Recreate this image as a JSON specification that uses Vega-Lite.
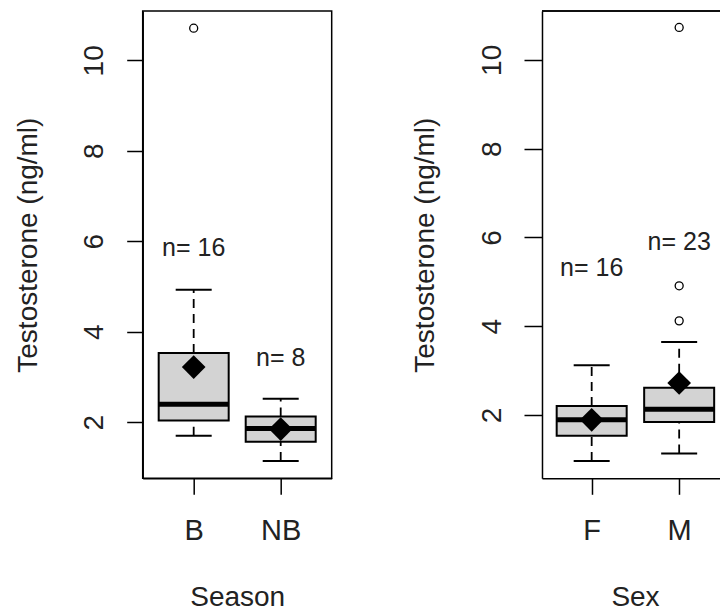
{
  "$schema": "https://vega.github.io/schema/vega-lite/v6.json",
  "background": "white",
  "padding": {"left": 13.7, "top": 10, "right": 0, "bottom": 0},
  "spacing": 210.3,
  "bounds": "flush",
  "datasets": {
    "season": [
      {"group": "B", "lower": 1.70, "q1": 2.04, "median": 2.40, "q3": 3.53, "upper": 4.93, "mean": 3.22, "labelY": 5.85, "label": "n= 16"},
      {"group": "NB", "lower": 1.145, "q1": 1.57, "median": 1.86, "q3": 2.13, "upper": 2.52, "mean": 1.85, "labelY": 3.42, "label": "n= 8"}
    ],
    "seasonOut": [
      {"group": "B", "value": 10.71}
    ],
    "sex": [
      {"group": "F", "lower": 0.96, "q1": 1.53, "median": 1.89, "q3": 2.20, "upper": 3.12, "mean": 1.89, "labelY": 5.32, "label": "n= 16"},
      {"group": "M", "lower": 1.13, "q1": 1.84, "median": 2.13, "q3": 2.61, "upper": 3.645, "mean": 2.72, "labelY": 5.90, "label": "n= 23"}
    ],
    "sexOut": [
      {"group": "M", "value": 10.73},
      {"group": "M", "value": 4.91},
      {"group": "M", "value": 4.12}
    ]
  },
  "config": {
    "font": "Liberation Sans",
    "view": {"stroke": "black", "strokeWidth": 1.5},
    "axis": {
      "grid": false,
      "domainColor": "black",
      "domainWidth": 1.5,
      "tickColor": "black",
      "tickWidth": 1.5,
      "tickSize": 16,
      "labelColor": "#222",
      "titleColor": "#222",
      "labelFont": "Liberation Sans",
      "titleFont": "Liberation Sans",
      "titleFontWeight": "normal",
      "labelFontSize": 28,
      "titleFontSize": 28,
      "labelOverlap": false,
      "labelFlush": false
    }
  },
  "hconcat": [
    {
      "width": 189,
      "height": 467.3,
      "data": {"name": "season"},
      "encoding": {
        "x": {
          "field": "group", "type": "nominal",
          "scale": {"type": "point", "padding": 0.586},
          "axis": {"title": "Season", "labelAngle": 0, "labelBaseline": "alphabetic", "labelPadding": 45.7, "labelFontSize": 29, "titleX": 94.5, "titleY": 127.7, "titleBaseline": "alphabetic", "titleAlign": "center", "titleAnchor": "middle"}
        }
      },
      "layer": [
        {
          "mark": {"type": "rule", "color": "black", "strokeWidth": 1.8, "strokeDash": [9, 6]},
          "encoding": {
            "y": {"field": "q3", "type": "quantitative", "scale": {"domain": [0.762, 11.09], "nice": false, "zero": false},
              "axis": {"title": "Testosterone (ng/ml)", "values": [2, 4, 6, 8, 10], "labelAngle": 270, "labelAlign": "center", "labelBaseline": "alphabetic", "labelPadding": 24, "titleAngle": 270, "titleAlign": "center", "titleBaseline": "alphabetic", "titleX": -106, "titleY": 233.65}},
            "y2": {"field": "upper"}
          }
        },
        {
          "mark": {"type": "rule", "color": "black", "strokeWidth": 1.8, "strokeDash": [9, 6]},
          "encoding": {
            "y": {"field": "lower", "type": "quantitative", "scale": {"domain": [0.762, 11.09], "nice": false, "zero": false}},
            "y2": {"field": "q1"}
          }
        },
        {
          "mark": {"type": "bar", "size": 70, "fill": "#d3d3d3", "stroke": "black", "strokeWidth": 2, "opacity": 1},
          "encoding": {
            "y": {"field": "q1", "type": "quantitative", "scale": {"domain": [0.762, 11.09], "nice": false, "zero": false}},
            "y2": {"field": "q3"}
          }
        },
        {
          "mark": {"type": "tick", "size": 36, "thickness": 2, "color": "black", "opacity": 1},
          "encoding": {
            "y": {"field": "upper", "type": "quantitative", "scale": {"domain": [0.762, 11.09], "nice": false, "zero": false}}
          }
        },
        {
          "mark": {"type": "tick", "size": 36, "thickness": 2, "color": "black", "opacity": 1},
          "encoding": {
            "y": {"field": "lower", "type": "quantitative", "scale": {"domain": [0.762, 11.09], "nice": false, "zero": false}}
          }
        },
        {
          "mark": {"type": "tick", "size": 70, "thickness": 5, "color": "black", "opacity": 1},
          "encoding": {
            "y": {"field": "median", "type": "quantitative", "scale": {"domain": [0.762, 11.09], "nice": false, "zero": false}}
          }
        },
        {
          "mark": {"type": "point", "shape": "diamond", "size": 560, "filled": true, "color": "black", "opacity": 1},
          "encoding": {
            "y": {"field": "mean", "type": "quantitative", "scale": {"domain": [0.762, 11.09], "nice": false, "zero": false}}
          }
        },
        {
          "data": {"name": "seasonOut"},
          "mark": {"type": "point", "shape": "circle", "size": 64, "filled": false, "color": "black", "strokeWidth": 1.3, "opacity": 1},
          "encoding": {
            "y": {"field": "value", "type": "quantitative", "scale": {"domain": [0.762, 11.09], "nice": false, "zero": false}}
          }
        },
        {
          "mark": {"type": "text", "fontSize": 25, "color": "#222", "baseline": "middle", "align": "center", "font": "Liberation Sans"},
          "encoding": {
            "y": {"field": "labelY", "type": "quantitative", "scale": {"domain": [0.762, 11.09], "nice": false, "zero": false}},
            "text": {"field": "label"}
          }
        }
      ]
    },
    {
      "width": 179,
      "height": 467.3,
      "view": {"stroke": null},
      "data": {"name": "sex"},
      "layer": [
        {
          "encoding": {
            "x": {
              "field": "group", "type": "nominal",
              "scale": {"type": "point", "padding": 0.523, "align": 0.543},
              "axis": {"title": "Sex", "labelAngle": 0, "labelBaseline": "alphabetic", "labelPadding": 45.7, "labelFontSize": 29, "titleX": 93, "titleY": 127.7, "titleBaseline": "alphabetic", "titleAlign": "center", "titleAnchor": "middle", "domain": true}
            }
          },
          "layer": [
            {
              "mark": {"type": "rule", "color": "black", "strokeWidth": 1.8, "strokeDash": [9, 6]},
              "encoding": {
                "y": {"field": "q3", "type": "quantitative", "scale": {"domain": [0.573, 11.10], "nice": false, "zero": false},
                  "axis": {"title": "Testosterone (ng/ml)", "values": [2, 4, 6, 8, 10], "labelAngle": 270, "labelAlign": "center", "labelBaseline": "alphabetic", "labelPadding": 23, "tickSize": 18, "titleAngle": 270, "titleAlign": "center", "titleBaseline": "alphabetic", "titleX": -108, "titleY": 233.65, "domain": true}},
                "y2": {"field": "upper"}
              }
            },
            {
              "mark": {"type": "rule", "color": "black", "strokeWidth": 1.8, "strokeDash": [9, 6]},
              "encoding": {
                "y": {"field": "lower", "type": "quantitative", "scale": {"domain": [0.573, 11.10], "nice": false, "zero": false}},
                "y2": {"field": "q1"}
              }
            },
            {
              "mark": {"type": "bar", "size": 70, "fill": "#d3d3d3", "stroke": "black", "strokeWidth": 2, "opacity": 1},
              "encoding": {
                "y": {"field": "q1", "type": "quantitative", "scale": {"domain": [0.573, 11.10], "nice": false, "zero": false}},
                "y2": {"field": "q3"}
              }
            },
            {
              "mark": {"type": "tick", "size": 36, "thickness": 2, "color": "black", "opacity": 1},
              "encoding": {
                "y": {"field": "upper", "type": "quantitative", "scale": {"domain": [0.573, 11.10], "nice": false, "zero": false}}
              }
            },
            {
              "mark": {"type": "tick", "size": 36, "thickness": 2, "color": "black", "opacity": 1},
              "encoding": {
                "y": {"field": "lower", "type": "quantitative", "scale": {"domain": [0.573, 11.10], "nice": false, "zero": false}}
              }
            },
            {
              "mark": {"type": "tick", "size": 70, "thickness": 5, "color": "black", "opacity": 1},
              "encoding": {
                "y": {"field": "median", "type": "quantitative", "scale": {"domain": [0.573, 11.10], "nice": false, "zero": false}}
              }
            },
            {
              "mark": {"type": "point", "shape": "diamond", "size": 560, "filled": true, "color": "black", "opacity": 1},
              "encoding": {
                "y": {"field": "mean", "type": "quantitative", "scale": {"domain": [0.573, 11.10], "nice": false, "zero": false}}
              }
            },
            {
              "data": {"name": "sexOut"},
              "mark": {"type": "point", "shape": "circle", "size": 64, "filled": false, "color": "black", "strokeWidth": 1.3, "opacity": 1},
              "encoding": {
                "y": {"field": "value", "type": "quantitative", "scale": {"domain": [0.573, 11.10], "nice": false, "zero": false}}
              }
            },
            {
              "mark": {"type": "text", "fontSize": 25, "color": "#222", "baseline": "middle", "align": "center", "font": "Liberation Sans"},
              "encoding": {
                "y": {"field": "labelY", "type": "quantitative", "scale": {"domain": [0.573, 11.10], "nice": false, "zero": false}},
                "text": {"field": "label"}
              }
            }
          ]
        },
        {
          "mark": {"type": "rule", "color": "black", "strokeWidth": 1.5},
          "encoding": {
            "y": {"datum": 11.10, "type": "quantitative", "scale": {"domain": [0.573, 11.10], "nice": false, "zero": false}}
          }
        }
      ]
    }
  ]
}
